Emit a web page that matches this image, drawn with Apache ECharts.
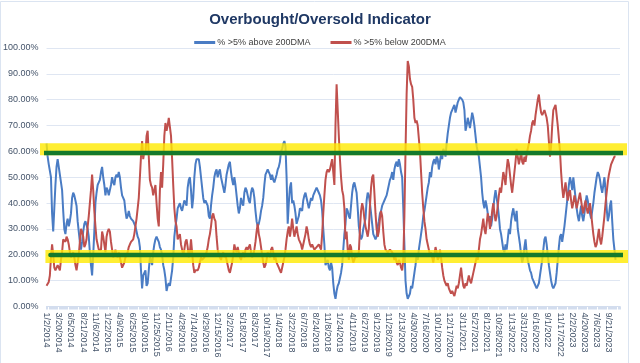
<!DOCTYPE html>
<html>
<head>
<meta charset="utf-8">
<script src="https://cdn.jsdelivr.net/npm/echarts@6/dist/echarts.min.js"></script>
<style>
html,body{margin:0;padding:0;background:#fff;}
#chart{width:640px;height:363px;}
</style>
</head>
<body>
<div id="chart"></div>
<script>
// Tick labels shown on the category axis (every 11th weekly observation)
const tickLabels = ['1/2/2014','3/20/2014','6/5/2014','8/21/2014','11/6/2014','1/22/2015','4/9/2015','6/25/2015','9/10/2015','11/25/2015','2/11/2016','4/28/2016','7/14/2016','9/29/2016','12/15/2016','3/2/2017','5/18/2017','8/3/2017','10/19/2017','1/4/2018','3/22/2018','6/7/2018','8/24/2018','11/8/2018','1/24/2019','4/11/2019','6/27/2019','9/12/2019','11/28/2019','2/13/2020','4/30/2020','7/16/2020','10/1/2020','12/17/2020','3/11/2021','5/27/2021','8/12/2021','10/28/2021','1/13/2022','3/31/2022','6/16/2022','9/1/2022','11/17/2022','2/2/2023','4/20/2023','7/6/2023','9/21/2023'];
const categoryCount = 517;

// % of stocks >5% above their 200DMA (weekly)
const aboveSeries = [
63,58,55,55,50,36,29,38,47,54,
57,54,51,48,45,37,30,28,32,34,
31,33,36,42,44,43,41,39,33,29,
25,22,25,29,32,33,33,30,27,21,
16,12,20,29,40,44,47,48,49,
52,54,50,47,43,46,45,43,43,47,
50,48,47,50,51,50,52,50,46,43,
42,41,37,34,35,37,35,34,34,33,
32,31,29,27,26,23,14,7,12,13,
14,8,9,14,19,18,16,21,24,26,
27,26,25,
23,22,20,16,14,11,6,8,9,8,
11,14,19,27,31,34,38,39,40,38,
37,37,41,40,39,46,49,50,45,38,
42,50,55,57,57,57,54,50,46,42,
40,41,41,39,35,34,39,43,46,50,
52,53,
50,52,53,50,48,46,44,47,51,53,
55,56,52,49,47,50,47,43,39,36,
38,42,40,39,44,46,45,43,41,40,
44,46,45,42,37,33,31,32,34,37,
39,42,47,51,52,53,52,51,49,51,
49,48,
48,51,53,54,56,60,61,63,64,62,
50,32,40,46,48,40,41,39,36,32,
32,35,38,38,37,41,43,44,42,40,
38,40,42,41,43,44,45,46,46,44,
43,41,37,30,24,16,17,18,15,14,
17,15,
9,5,3,6,8,9,11,13,16,22,
28,32,38,37,35,34,39,44,47,48,
48,44,38,31,28,26,27,30,32,34,
41,44,43,40,36,32,28,27,26,27,
31,33,36,37,39,40,41,42,43,45,
47,49,
50,52,49,53,55,56,54,57,55,52,
50,38,24,10,5,3,3,5,8,7,
10,13,16,20,18,22,25,28,31,35,
37,40,43,46,48,52,50,54,56,57,
55,58,57,53,56,59,57,61,60,58,
63,67,70,73,75,76,77,78,75,77,
79,80,81,81,80,79,76,68,70,73,
71,69,72,75,73,70,66,62,60,58,
54,50,44,40,38,41,39,36,33,35,
31,34,38,42,45,42,39,35,30,28,
25,22,21,24,22,26,30,28,33,36,
38,35,33,37,30,27,24,20,17,19,
23,26,21,18,16,14,13,11,10,9,
8,7,8,9,12,15,18,22,26,27,
24,20,16,13,10,8,7,8,9,13,
18,23,27,28,25,28,31,35,39,43,
47,50,48,45,50,46,42,38,35,33,
36,39,35,33,36,40,43,41,38,36,
34,37,40,44,47,50,52,51,49,46,
44,47,50,45,38,33,35,39,41,33,
26,22,18
];

// % of stocks >5% below their 200DMA (weekly)
const belowSeries = [
8,8.5,9.5,12,19,24,20,15,14,14,
16,15,14,18,21,26,26,25,27,26,
24,21,19,19,21,19,16,14,17,20,
25,30,29,27,23,24,26,31,35,40,
45,51,45,37,31,26,24,22,22,
22,29,27,24,21,27,29,30,29,25,
22,19,20,22,20,19,21,19,17,15,
16,17,19,20,21,23,24,25,25,26,
28,31,34,38,42,50,58,64,57,60,
59,66,68,58,49,47,46,43,45,47,
40,34,31,
45,52,46,55,66,71,68,70,73,73,
66,57,47,38,33,31,26,27,28,24,
22,20,22,25,26,23,19,21,26,21,
16,13,14,14,14,15,17,19,18,18,
19,20,21,23,26,28,31,35,36,34,
33,27,
22,20,19,18,20,21,19,20,18,16,
14,13,15,17,20,24,22,21,23,21,
19,18,20,21,19,22,23,22,23,24,
21,19,20,22,25,29,32,28,26,23,
20,17,15,16,18,21,20,19,22,23,
21,18,
19,17,16,15,14,13,15,17,19,22,
26,29,31,27,30,34,30,27,27,31,
28,26,25,24,22,24,26,28,31,29,
26,24,23,24,23,22,22,23,23,24,
23,22,28,36,43,49,52,53,52,53,
55,57,
52,47,70,86,76,66,57,50,45,43,
38,26,29,22,18,24,23,19,17,18,
20,19,20,21,30,37,40,38,34,31,
29,27,30,39,46,50,51,44,36,30,
27,29,34,37,35,29,24,22,22,21,
21,22,
22,21,20,18,19,17,16,18,17,15,
14,18,35,60,82,95,93,88,86,85,
80,73,71,72,70,65,60,52,44,38,
33,30,26,24,22,20,21,19,17,20,
23,21,18,19,22,19,15,12,10,9,
8,9,7,6,5,6,5,4,6,8,
7,9,12,15,11,8,7,9,8,10,
12,10,9,11,13,15,17,19,18,22,
26,28,31,34,30,28,32,36,34,30,
33,37,40,36,33,35,39,43,46,44,
48,52,50,47,53,57,55,51,47,44,
48,52,56,61,58,55,57,60,56,55,
58,56,59,61,63,66,68,71,72,70,
74,77,80,82,78,75,74,75,76,76,
73,70,64,58,62,70,76,77,78,74,
70,65,60,52,46,42,45,48,44,41,
44,45,41,38,40,43,41,38,40,42,
44,41,38,36,39,41,38,36,38,40,
36,32,28,25,23,24,27,30,26,24,
27,31,35,40,44,48,51,53,55,56,
57,58,58
];

// Overbought / oversold reference levels (drawn on a hidden index axis)
const overboughtBand = [[-7, 60.8], [534, 60.8]];
const overboughtLine = [[-7, 59.4], [531, 59.4]];
const oversoldBand = [[-1, 19.3], [534, 19.3]];
const oversoldLine = [[3.5, 19.9], [530, 19.9]];

// weekly category names (only every 11th is displayed)
const categories = [];
for (let i = 0; i < categoryCount; i++) {
  const t = Math.min(Math.floor(i / 11), tickLabels.length - 1);
  const k = i - t * 11;
  if (k === 0) { categories.push(tickLabels[t]); continue; }
  const p = tickLabels[t].split('/').map(Number);
  const d = new Date(p[2], p[0] - 1, p[1] + 7 * k);
  categories.push((d.getMonth() + 1) + '/' + d.getDate() + '/' + d.getFullYear());
}

const FONT = 'Liberation Sans, Arial, sans-serif';
const labelColor = '#44546a';
const chart = echarts.init(document.getElementById('chart'), null, {renderer: 'canvas'});
chart.setOption({
  animation: false,
  backgroundColor: '#ffffff',
  textStyle: {fontFamily: FONT},
  title: {
    text: 'Overbought/Oversold Indicator',
    left: 'center', top: 7,
    textStyle: {fontFamily: FONT, fontSize: 15, fontWeight: 'bold', color: '#1f3864'}
  },
  legend: {
    data: ['% >5% above 200DMA', '% >5% below 200DMA'],
    top: 33, left: 'center',
    icon: 'rect', itemWidth: 21, itemHeight: 3, itemGap: 20,
    textStyle: {fontFamily: FONT, fontSize: 9, color: '#404040', padding: [0, 0, 0, -3]}
  },
  graphic: [{
    type: 'rect', silent: true, z: -10,
    shape: {x: 0.5, y: 1.5, width: 628, height: 400},
    style: {fill: 'none', stroke: '#dbe4f1', lineWidth: 1}
  }],
  grid: {left: 44, right: 20, top: 48, bottom: 56.5, containLabel: false},
  xAxis: [{
    type: 'category',
    data: categories,
    boundaryGap: false,
    axisLine: {show: true, lineStyle: {color: '#d3ddee', width: 1}},
    axisTick: {show: true, interval: 0, length: 3, lineStyle: {color: '#d3ddee'}},
    axisLabel: {
      interval: 10, rotate: -90, margin: 6,
      fontFamily: FONT, fontSize: 9, color: labelColor
    },
    splitLine: {show: false}
  }, {
    type: 'value', min: 0, max: categoryCount - 1, show: false
  }],
  yAxis: {
    type: 'value', min: 0, max: 100, interval: 10,
    axisLine: {show: false}, axisTick: {show: false},
    axisLabel: {
      fontFamily: FONT, fontSize: 9, color: labelColor, margin: 8,
      formatter: v => v.toFixed(2) + '%'
    },
    splitLine: {lineStyle: {color: '#dfe6f2', width: 1}}
  },
  series: [{
    name: '% >5% above 200DMA', type: 'line', data: aboveSeries,
    symbol: 'none', z: 2,
    lineStyle: {color: '#4a7cc4', width: 2}, itemStyle: {color: '#4a7cc4'}
  }, {
    name: '% >5% below 200DMA', type: 'line', data: belowSeries,
    symbol: 'none', z: 3,
    lineStyle: {color: '#c0504d', width: 2}, itemStyle: {color: '#c0504d'}
  }, {
    name: 'obBand', type: 'line', xAxisIndex: 1, data: overboughtBand,
    symbol: 'none', silent: true, clip: false, z: 5,
    lineStyle: {color: '#ffea00', width: 12, opacity: 0.8, cap: 'butt'}
  }, {
    name: 'osBand', type: 'line', xAxisIndex: 1, data: oversoldBand,
    symbol: 'none', silent: true, clip: false, z: 5,
    lineStyle: {color: '#ffea00', width: 13, opacity: 0.8, cap: 'butt'}
  }, {
    name: 'obLine', type: 'line', xAxisIndex: 1, data: overboughtLine,
    symbol: 'none', silent: true, clip: false, z: 6,
    lineStyle: {color: '#147a2c', width: 4.5, cap: 'round'}
  }, {
    name: 'osLine', type: 'line', xAxisIndex: 1, data: oversoldLine,
    symbol: 'none', silent: true, clip: false, z: 6,
    lineStyle: {color: '#147a2c', width: 4.5, cap: 'round'}
  }]
});
</script>
</body>
</html>
